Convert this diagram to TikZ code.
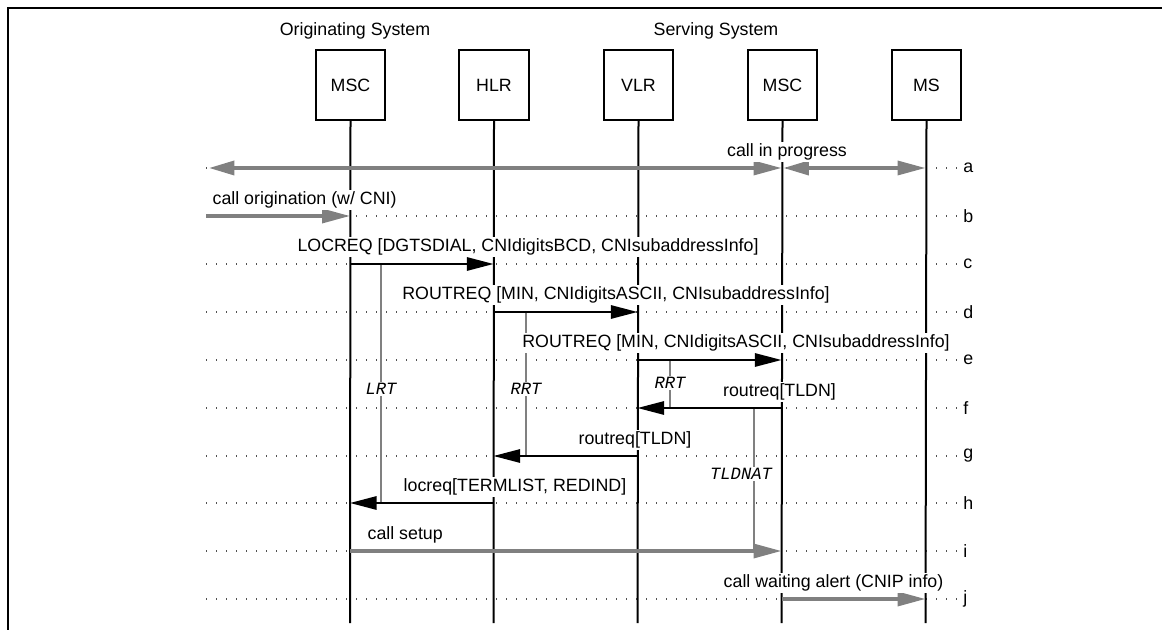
\documentclass[tikz,border=0pt]{standalone}
\usepackage{fontspec}
\setmainfont{Liberation Sans}
\newfontfamily\timerfont{Liberation Mono}
\usetikzlibrary{arrows.meta}
\definecolor{arrgray}{HTML}{808080}
\definecolor{dotgray}{HTML}{505050}
\begin{document}
\begin{tikzpicture}[x=0.75pt,y=-0.75pt,
  every node/.style={font=\fontsize{13.35}{16}\selectfont},
  entity/.style={draw, line width=1.5pt, minimum width=52pt, minimum height=52pt, inner sep=0pt},
  lifeline/.style={line width=1.5pt},
  rowline/.style={draw=dotgray, line width=1.1pt, dash pattern=on 1.1pt off 6.4pt},
  msg/.style={line width=1.5pt, -{Triangle[length=20pt,width=10pt]}},
  gmsg/.style={draw=arrgray, line width=2.6pt, -{Triangle[length=21pt,width=10.5pt]}, arrgray},
  gboth/.style={draw=arrgray, line width=2.6pt, {Triangle[length=19pt,width=10.5pt]}-{Triangle[length=21pt,width=10.5pt]}, arrgray},
  timer/.style={draw=arrgray, line width=1.5pt},
  lbl/.style={fill=white, inner sep=1pt},
  tlbl/.style={fill=white, inner sep=1pt, font=\timerfont\itshape\fontsize{12.9}{15}\selectfont},
  rowlbl/.style={anchor=west, inner sep=0pt}
]
\useasboundingbox (0,0) rectangle (1162,630);
% frame
\draw[line width=2.2pt] (1170,8) -- (8,8) -- (8,640);

% headers
\node (hOrig) at (355,31) {Originating System};
\node (hServ) at (716,31) {Serving System};

% entities
\node[entity] (A) at (350.5,85) {MSC};
\node[entity] (B) at (494,85) {HLR};
\node[entity] (C) at (638.5,85) {VLR};
\node[entity] (D) at (782.5,85) {MSC};
\node[entity] (E) at (926.5,85) {MS};

% row coordinates
\foreach \r/\y in {a/168,b/216,c/264,d/312,e/360,f/408,g/456,h/503,i/551,j/599}{
  \coordinate (L\r) at (206,\y);
  \coordinate (R\r) at (957,\y);
  \coordinate (A\r) at (350,\y);
  \coordinate (B\r) at (493.5,\y);
  \coordinate (C\r) at (637.5,\y);
  \coordinate (D\r) at (781.5,\y);
  \coordinate (E\r) at (925.5,\y);
  \draw[rowline] (L\r) -- (R\r);
  \node[rowlbl] (lab\r) at (963,\y) {\r};
}
\foreach \n/\x in {A/350,B/493.5,C/637.5,D/781.5,E/925.5}{
  \coordinate (\n end) at (\x,623);
  \draw[lifeline] (\n.south) -- (\n end);
}

% timers
\coordinate (lrtS) at (381,264); \coordinate (lrtE) at (381,503);
\coordinate (rrtAS) at (526,312); \coordinate (rrtAE) at (526,456);
\coordinate (rrtBS) at (670,360); \coordinate (rrtBE) at (670,408);
\coordinate (tldS) at (754,408); \coordinate (tldE) at (754,551);
\draw[timer] (lrtS) -- (lrtE);
\draw[timer] (rrtAS) -- (rrtAE);
\draw[timer] (rrtBS) -- (rrtBE);
\draw[timer] (tldS) -- (tldE);

% messages
\coordinate (La2) at (209,168);
\coordinate (Da2) at (783.5,168);
\draw[gboth] (La2) -- (Da);
\draw[gboth] (Da2) -- (Ea);
\draw[gmsg] (Lb) -- (Ab);
\draw[msg] (Ac) -- (Bc);
\draw[msg] (Bd) -- (Cd);
\draw[msg] (Ce) -- (De);
\draw[msg] (Df) -- (Cf);
\draw[msg] (Cg) -- (Bg);
\draw[msg] (Bh) -- (Ah);
\draw[gmsg] (Ai) -- (Di);
\draw[gmsg] (Dj) -- (Ej);

% message labels
\node[lbl] (ma) at (787,152) {call in progress};
\node[lbl, anchor=west] (mb) at (211,200) {call origination (w/ CNI)};
\node[lbl] (mc) at (528,247) {LOCREQ [DGTSDIAL, CNIdigitsBCD, CNIsubaddressInfo]};
\node[lbl] (md) at (616,295) {ROUTREQ [MIN, CNIdigitsASCII, CNIsubaddressInfo]};
\node[lbl] (me) at (736,343) {ROUTREQ [MIN, CNIdigitsASCII, CNIsubaddressInfo]};
\node[lbl] (mf) at (779.5,392) {routreq[TLDN]};
\node[lbl] (mg) at (635,440) {routreq[TLDN]};
\node[lbl] (mh) at (515,487) {locreq[TERMLIST, REDIND]};
\node[lbl, anchor=west] (mi) at (366,535) {call setup};
\node[lbl] (mj) at (833.5,583) {call waiting alert (CNIP info)};

% timer labels
\node[tlbl] (tlrt) at (381,389) {LRT};
\node[tlbl] (trrtA) at (526,389) {RRT};
\node[tlbl] (trrtB) at (670,383) {RRT};
\node[tlbl] (ttld) at (741,474) {TLDNAT};
\end{tikzpicture}
\end{document}
